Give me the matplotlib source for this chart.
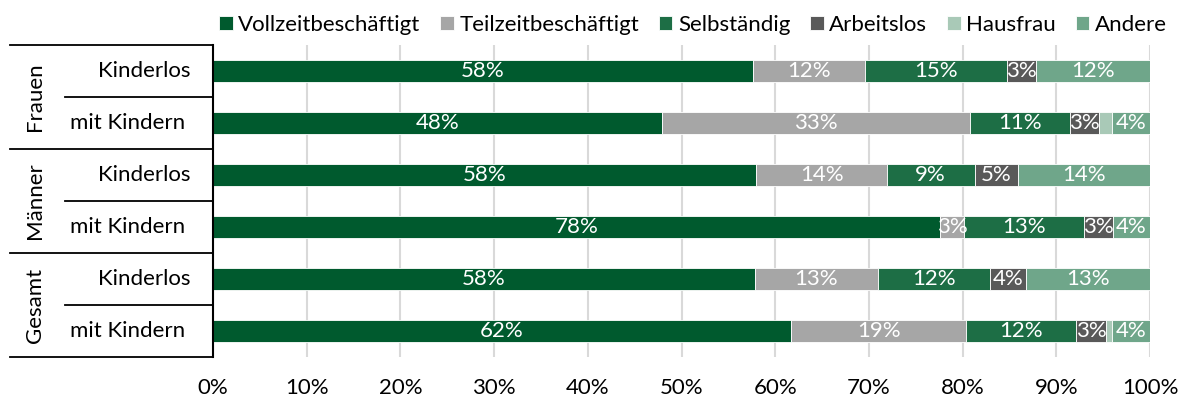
import matplotlib
matplotlib.use("Agg")
import matplotlib.pyplot as plt
import numpy as np

plt.rcParams['font.family'] = ['Lato', 'DejaVu Sans']

# employment shares in percent, one row per bar (top to bottom)
groups = ["Frauen", "Männer", "Gesamt"]
rows = ["Kinderlos", "mit Kindern"] * 3
categories = ["Vollzeitbeschäftigt", "Teilzeitbeschäftigt", "Selbständig",
              "Arbeitslos", "Hausfrau", "Andere"]
vollzeit = [57.6, 47.9, 58.0, 77.6, 57.8, 61.7]
teilzeit = [12.0, 32.9, 13.9, 2.6, 13.2, 18.7]
selbst = [15.1, 10.7, 9.4, 12.8, 11.9, 11.7]
arbeitslos = [3.1, 3.1, 4.6, 3.0, 3.9, 3.2]
hausfrau = [0.0, 1.3, 0.0, 0.0, 0.0, 0.6]
andere = [12.2, 4.1, 14.1, 4.0, 13.2, 4.1]
xticks = list(range(0, 101, 10))

colors = ["#005a2e", "#a6a6a6", "#1d6e45", "#595959", "#a9c9b7", "#6fa68a"]

series = [vollzeit, teilzeit, selbst, arbeitslos, hausfrau, andere]
fs = 16

fig = plt.figure(figsize=(11.9, 3.98), dpi=100)
ax = fig.add_axes([213 / 1190, 1 - 357 / 398, 937 / 1190, 312 / 398])

y = np.arange(len(rows))
left = np.zeros(len(rows))
for name, vals, col in zip(categories, series, colors):
    vals = np.array(vals)
    ax.barh(y, vals, left=left, height=0.42, color=col, label=name,
            edgecolor="white", linewidth=0.6, zorder=3)
    for yi, l, v in zip(y, left, vals):
        if v >= 2:
            ax.text(l + v / 2, yi, f"{v:.0f}%", ha="center", va="center",
                    color="white", fontsize=fs, zorder=4)
    left += vals

ax.set_xlim(0, 100)
ax.set_ylim(len(rows) - 0.5, -0.5)
ax.set_xticks(xticks)
ax.set_xticklabels([f"{t}%" for t in xticks], fontsize=fs)
ax.tick_params(axis="x", length=0, pad=15)
ax.set_yticks([])
ax.grid(axis="x", color="#d9d9d9", linewidth=1.5, zorder=0)
for s in ["top", "right", "bottom"]:
    ax.spines[s].set_visible(False)
ax.spines["left"].set_color("black")
ax.spines["left"].set_linewidth(1.5)
ax.spines["left"].set_zorder(5)

# category table on the left
tr = ax.get_yaxis_transform()
x_outer = (10 - 213) / 937
x_inner = (65 - 213) / 937
for b in [-0.5, 1.5, 3.5, 5.5]:
    ax.plot([x_outer, 0], [b, b], color="black", lw=1.3, transform=tr, clip_on=False)
for b in [0.5, 2.5, 4.5]:
    ax.plot([x_inner, 0], [b, b], color="black", lw=1.3, transform=tr, clip_on=False)

row_x = {"Kinderlos": (144 - 213) / 937, "mit Kindern": (128 - 213) / 937}
for yi, r in zip(y, rows):
    ax.text(row_x[r], yi, r, ha="center", va="center", fontsize=fs, transform=tr)
x_grp = (35 - 213) / 937
for i, g in enumerate(groups):
    ax.text(x_grp, 2 * i + 0.5, g, ha="center", va="center", rotation=90,
            fontsize=fs, transform=tr)

fig.legend(loc="center", bbox_to_anchor=(693 / 1190, 1 - 25 / 398), ncol=6,
           frameon=False, fontsize=fs, handlelength=0.6, handleheight=0.6,
           handletextpad=0.25, columnspacing=0.9, borderpad=0)

fig.savefig("out.png", dpi=100)
